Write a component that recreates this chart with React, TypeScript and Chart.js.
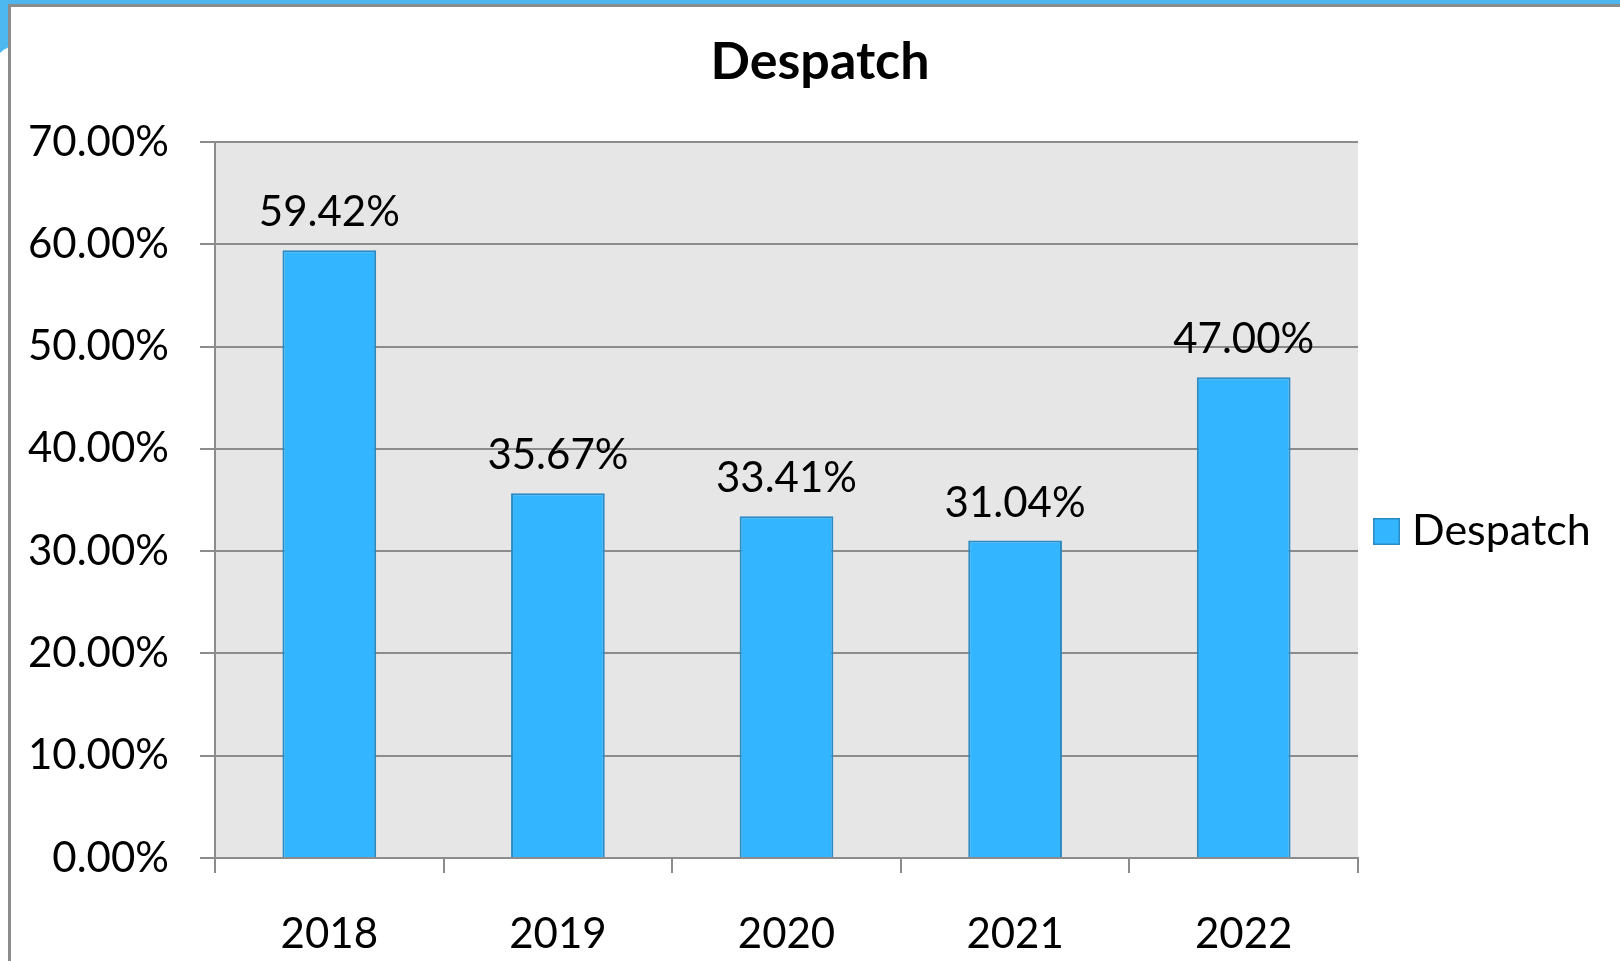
import React, { useEffect, useRef } from "react";
import { Chart, registerables } from "chart.js";

Chart.register(...registerables);

const categories = ["2018", "2019", "2020", "2021", "2022"];
const despatchValues = [59.42, 35.67, 33.41, 31.04, 47.0];
const seriesName = "Despatch";
const chartTitle = "Despatch";
const yTicks = [0, 10, 20, 30, 40, 50, 60, 70];

const FONT = "Lato, 'Open Sans', sans-serif";
const BAR_FILL = "#33b5ff";
const BAR_BORDER = "#2a8ac4";
const GRID = "#8c8c8c";
const PLOT_BG = "#e6e6e6";

const decorPlugin = {
  id: "decor",
  beforeDraw(chart: any) {
    const { ctx, chartArea, width, height } = chart;
    ctx.save();
    ctx.fillStyle = "#ffffff";
    ctx.fillRect(0, 0, width, height);
    // blue top band and corner
    ctx.fillStyle = "#4db8f0";
    ctx.fillRect(0, 0, width, 4);
    ctx.beginPath();
    ctx.moveTo(0, 0);
    ctx.lineTo(9, 0);
    ctx.lineTo(9, 47);
    ctx.quadraticCurveTo(4, 49, 0, 53);
    ctx.closePath();
    ctx.fill();
    // grey frame
    ctx.strokeStyle = "#8c8c8c";
    ctx.lineWidth = 3;
    ctx.beginPath();
    ctx.moveTo(8, 5.5);
    ctx.lineTo(width, 5.5);
    ctx.moveTo(9.5, 4);
    ctx.lineTo(9.5, height);
    ctx.stroke();
    // plot background
    ctx.fillStyle = PLOT_BG;
    ctx.fillRect(chartArea.left, chartArea.top, chartArea.right - chartArea.left, chartArea.bottom - chartArea.top);
    // title, centred on the whole frame
    ctx.font = `bold 52px ${FONT}`;
    ctx.fillStyle = "#000";
    ctx.textAlign = "center";
    ctx.textBaseline = "alphabetic";
    ctx.fillText(chartTitle, 820, 79);
    ctx.restore();
  },
};

const labelsPlugin = {
  id: "barLabels",
  afterDatasetsDraw(chart: any) {
    const { ctx } = chart;
    const meta = chart.getDatasetMeta(0);
    ctx.save();
    ctx.font = `42px ${FONT}`;
    ctx.fillStyle = "#000";
    ctx.textAlign = "center";
    ctx.textBaseline = "alphabetic";
    meta.data.forEach((bar: any, i: number) => {
      const v = chart.data.datasets[0].data[i] as number;
      ctx.fillText(v.toFixed(2) + "%", bar.x, bar.y - 24);
    });
    ctx.restore();
  },
};

const legendPlugin = {
  id: "customLegend",
  afterDraw(chart: any) {
    const { ctx, chartArea } = chart;
    const x = chartArea.right + 15;
    const y = 518;
    ctx.save();
    ctx.fillStyle = BAR_FILL;
    ctx.fillRect(x, y, 27, 27);
    ctx.strokeStyle = BAR_BORDER;
    ctx.lineWidth = 1.5;
    ctx.strokeRect(x + 0.75, y + 0.75, 25.5, 25.5);
    ctx.font = `43px ${FONT}`;
    ctx.fillStyle = "#000";
    ctx.textAlign = "left";
    ctx.textBaseline = "alphabetic";
    ctx.fillText(seriesName, x + 39, 545);
    ctx.restore();
  },
};

export default function App() {
  const ref = useRef<HTMLCanvasElement | null>(null);

  useEffect(() => {
    if (!ref.current) return;
    const chart = new Chart(ref.current, {
      type: "bar",
      data: {
        labels: categories,
        datasets: [
          {
            label: seriesName,
            data: despatchValues,
            backgroundColor: BAR_FILL,
            borderColor: BAR_BORDER,
            borderWidth: 2,
            barPercentage: 0.41,
            categoryPercentage: 1,
          },
        ],
      },
      options: {
        responsive: false,
        animation: false,
        devicePixelRatio: 1,
        layout: { padding: { top: 142, left: 0, right: 262, bottom: 0 } },
        plugins: {
          legend: { display: false },
          tooltip: { enabled: false },
          title: { display: false },
        },
        scales: {
          x: {
            grid: {
              display: true,
              drawOnChartArea: false,
              drawTicks: true,
              tickLength: 15,
              color: GRID,
              lineWidth: 2,
              offset: true,
            },
            border: { display: true, color: GRID, width: 2 },
            ticks: {
              color: "#000",
              font: { family: FONT, size: 42 },
              padding: 36,
            },
            afterFit(scale: any) {
              scale.height = 103;
            },
          },
          y: {
            min: 0,
            max: 70,
            afterBuildTicks(scale: any) {
              scale.ticks = yTicks.map((v) => ({ value: v }));
            },
            grid: {
              color: GRID,
              lineWidth: 2,
              tickLength: 15,
              drawTicks: true,
            },
            border: { display: true, color: GRID, width: 2 },
            ticks: {
              color: "#000",
              font: { family: FONT, size: 42 },
              padding: 31,
              callback: (v: any) => Number(v).toFixed(2) + "%",
            },
            afterFit(scale: any) {
              scale.width = 215;
            },
          },
        },
      },
      plugins: [decorPlugin, labelsPlugin, legendPlugin],
    });
    return () => chart.destroy();
  }, []);

  return (
    <div style={{ position: "absolute", left: 0, top: 0, width: 1620, height: 961 }}>
      <canvas ref={ref} width={1620} height={961} style={{ display: "block" }} />
    </div>
  );
}
